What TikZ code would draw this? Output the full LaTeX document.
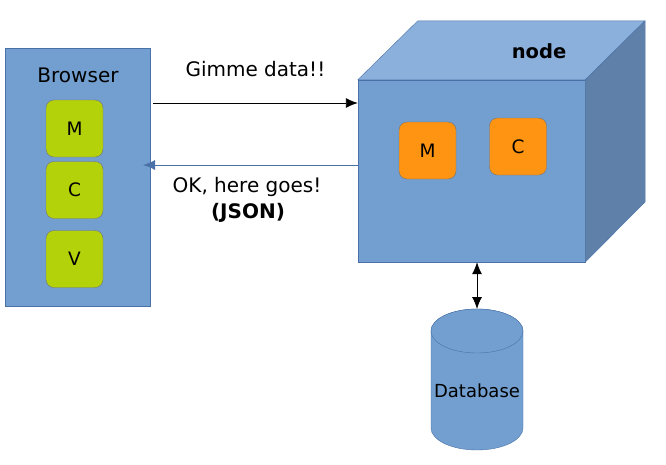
\documentclass[tikz,border=0pt]{standalone}
\usepackage{fontspec}
\setmainfont{DejaVu Sans}
\usepackage{tikz}
\usetikzlibrary{arrows.meta}
\definecolor{boxblue}{HTML}{729FCF}
\definecolor{topblue}{HTML}{8CB0DC}
\definecolor{sideblue}{HTML}{5F80A8}
\definecolor{edgeblue}{HTML}{4A72A8}
\definecolor{mvcgreen}{HTML}{B4D20A}
\definecolor{mvcorange}{HTML}{FF9412}

\begin{document}
\begin{tikzpicture}[x=1pt, y=-1pt,
    face/.style={draw=edgeblue, fill=boxblue},
    part/.style={draw=black!55, rounded corners=8pt, minimum width=57pt, minimum height=57pt, font=\fontsize{18.5}{20}\selectfont},
    label/.style={font=\fontsize{20}{22}\selectfont},
    tip/.style={line width=0.9pt, -{Latex[length=12pt, width=10pt]}},
    bothtips/.style={line width=0.9pt, {Latex[length=12pt, width=10pt]}-{Latex[length=12pt, width=10pt]}}]
    \useasboundingbox (0,0) rectangle (666,464);

    % The browser with its M, C and V
    \node[face, minimum width=145pt, minimum height=258pt] (browser) at (77.5, 177) {};
    \node[label] (browsertitle) at (78, 75) {Browser};
    \node[part, fill=mvcgreen] (bm) at (74.5, 128.5) {M};
    \node[part, fill=mvcgreen] (bc) at (74.5, 190) {C};
    \node[part, fill=mvcgreen] (bv) at (74.5, 259) {V};

    % The node server as a cube
    \node[face, minimum width=227pt, minimum height=182pt] (front) at (471.5, 171) {};
    \draw[face, fill=topblue] (front.north west) -- ++(60, -59) -- ++(227, 0) -- (front.north east) -- cycle;
    \draw[face, fill=sideblue] (front.north east) -- ++(60, -59) -- ++(0, 181) -- (front.south east) -- cycle;
    \node[label, font=\fontsize{19.5}{22}\selectfont\bfseries] (nodetitle) at (539, 51) {node};
    \node[part, fill=mvcorange] (nm) at (427.5, 150.5) {M};
    \node[part, fill=mvcorange] (nc) at (518, 146.5) {C};

    % Request and answer
    \coordinate (req) at (153, 103);
    \coordinate (ans) at (143, 165);
    \draw[tip] (req) -- (req -| front.west) node[label, midway, above=22pt] {Gimme data!!};
    \draw[tip, draw=edgeblue, fill=edgeblue] (ans -| front.west) -- (ans);
    \node[label] (ok) at (247, 187) {OK, here goes!};
    \node[label, font=\fontsize{20}{22}\selectfont\bfseries] (json) at (248, 213) {(JSON)};

    % The database below the cube
    \coordinate (dbtop) at (477, 309);
    \draw[face] (431, 331) -- (431, 428) arc[start angle=180, end angle=0, x radius=46, y radius=22]
        -- (523, 331) arc[start angle=0, end angle=-180, x radius=46, y radius=22] -- cycle;
    \draw[face] (477, 331) ellipse[x radius=46, y radius=22];
    \node[font=\fontsize{18}{20}\selectfont] (db) at (477, 391) {Database};
    \draw[bothtips] (dbtop |- front.south) -- (dbtop);

\end{tikzpicture}
\end{document}
